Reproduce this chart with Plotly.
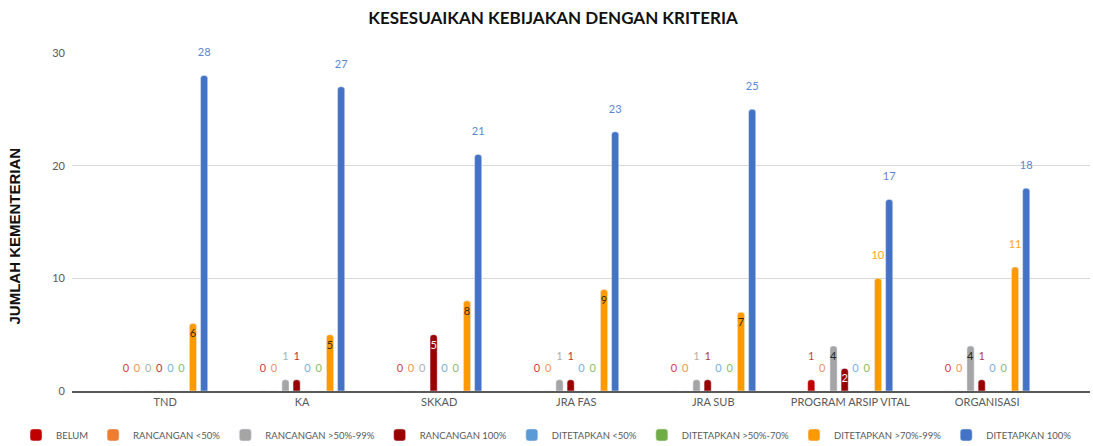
import plotly.graph_objects as go

categories = ["TND", "KA", "SKKAD", "JRA FAS", "JRA SUB", "PROGRAM ARSIP VITAL", "ORGANISASI"]
series_names = ["BELUM", "RANCANGAN <50%", "RANCANGAN >50%-99%", "RANCANGAN 100%",
                "DITETAPKAN <50%", "DITETAPKAN >50%-70%", "DITETAPKAN >70%-99%", "DITETAPKAN 100%"]
belum = [0, 0, 0, 0, 0, 1, 0]
rancangan_lt50 = [0, 0, 0, 0, 0, 0, 0]
rancangan_50_99 = [0, 1, 0, 1, 1, 4, 4]
rancangan_100 = [0, 1, 5, 1, 1, 2, 1]
ditetapkan_lt50 = [0, 0, 0, 0, 0, 0, 0]
ditetapkan_50_70 = [0, 0, 0, 0, 0, 0, 0]
ditetapkan_70_99 = [6, 5, 8, 9, 7, 10, 11]
ditetapkan_100 = [28, 27, 21, 23, 25, 17, 18]

series_values = [belum, rancangan_lt50, rancangan_50_99, rancangan_100,
                 ditetapkan_lt50, ditetapkan_50_70, ditetapkan_70_99, ditetapkan_100]
colors = ["#C00000", "#ED7D31", "#A5A5A5", "#990000", "#5B9BD5", "#70AD47", "#FF9900", "#4472C4"]
label_colors = ["#D04040", "#F0955A", "#B0B0B0", "#B83838", "#7AAFE0", "#88BD66", "#FFA520", "#5B86D0"]
inside_colors = ["#FFFFFF", "#404040", "#262626", "#F2F2F2", "#262626", "#262626", "#3A2A10", "#FFFFFF"]

FONT = "Lato, 'Open Sans', sans-serif"

fig = go.Figure()
for name, vals, col, lcol, icol in zip(series_names, series_values, colors, label_colors, inside_colors):
    inside = [2 <= v <= 9 for v in vals]
    pos = ["inside" if f else "outside" for f in inside]
    txt = [str(v) if f else str(v) + "<br> " for v, f in zip(vals, inside)]
    fig.add_trace(go.Bar(
        name=name, x=categories, y=vals, marker_color=col,
        text=txt, textposition=pos,
        insidetextanchor="end",
        textfont=dict(family=FONT, size=11, color=lcol),
        insidetextfont=dict(family=FONT, size=11, color=icol),
        outsidetextfont=dict(family=FONT, size=11, color=lcol),
        cliponaxis=False,
    ))

fig.update_layout(
    width=1093, height=446,
    paper_bgcolor="white", plot_bgcolor="white",
    margin=dict(l=72, r=3, t=53, b=55, autoexpand=False),
    barmode="group", bargap=0.35, bargroupgap=0.36,
    barcornerradius=3,
    uniformtext=dict(minsize=11, mode="show"),
    title=dict(text="<b>KESESUAIKAN KEBIJAKAN DENGAN KRITERIA</b>",
               font=dict(family=FONT, size=17, color="#111111"),
               x=0.506, xanchor="center", y=0.96, yanchor="middle"),
    xaxis=dict(range=[-0.68, 6.75], showline=True, linecolor="#595959", linewidth=1.5,
               tickfont=dict(family=FONT, size=11, color="#595959"), ticks="",
               showgrid=False),
    yaxis=dict(range=[0, 30], tickvals=[0, 10, 20, 30], showgrid=True,
               gridcolor="#D9D9D9", gridwidth=1, zeroline=False,
               tickfont=dict(family=FONT, size=11, color="#595959"), ticks="",
               ticklabelstandoff=6),
    legend=dict(orientation="h", x=-0.055, xanchor="left",
                y=-0.13, yanchor="middle",
                font=dict(family=FONT, size=9.5, color="#595959"),
                traceorder="normal"),
    showlegend=True,
    annotations=[dict(text="<b>JUMLAH KEMENTERIAN</b>", xref="paper", yref="paper",
                      x=-0.056, y=0.46, xanchor="center", yanchor="middle",
                      textangle=-90, showarrow=False,
                      font=dict(family="'Liberation Sans', Arial, sans-serif", size=15, color="#111111"))],
)

fig.write_html("out.html", config={"displayModeBar": False},
               post_script="document.body.style.margin='0';document.body.style.overflow='hidden';")
